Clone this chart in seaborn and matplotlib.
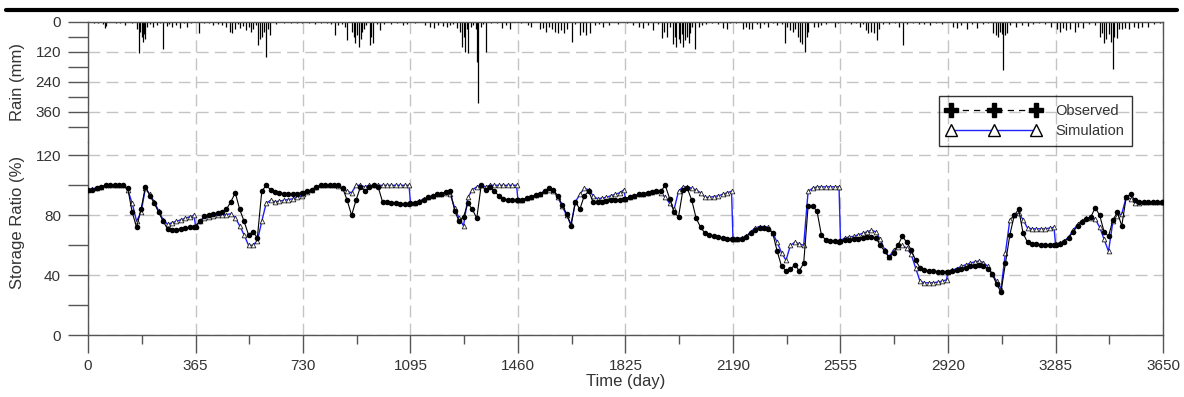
"""
Rainfall (top, inverted) and storage ratio, observed vs simulated, over ten years.
"""
import numpy as np
import pandas as pd
import matplotlib
matplotlib.use("Agg")
import matplotlib.pyplot as plt
from matplotlib.lines import Line2D
import seaborn as sns

# --- Data ---
# sampling grid: every 15 days inside each 365-day year, plus the last day
DAYS = [365 * k + o for k in range(10) for o in range(0, 361, 15)] + [3650]

OBSERVED = [
    97, 97, 98, 99, 100, 100, 100, 100, 100, 98, 82, 72, 84, 99, 93, 88, 82, 76, 71, 70, 70.5, 71, 71.5, 72, 72.5,
    72.5, 76, 79.5, 80.5, 81, 81.5, 82, 84, 89, 95, 84, 76, 67, 69, 65, 96, 100, 97, 95.5, 95, 94.5, 94, 94, 94.5, 95,
    95, 96, 97, 99, 100, 100, 100, 100, 100, 98, 90, 80, 90, 99, 96, 99, 100, 99, 89, 89, 88.5, 88, 87.5, 87.5, 87.5,
    88, 88, 89, 90.5, 92, 93, 94, 94.5, 95.5, 96, 83, 76, 79, 88, 84, 78, 100, 97, 99, 96, 93, 91, 90, 90, 90,
    90, 90.5, 91.5, 92.5, 93.5, 94.5, 96, 98, 97, 93, 87, 81, 73, 89, 84, 93, 96, 89, 89, 89, 89.5, 90, 90, 90.5, 91,
    91, 92, 93, 94, 94.5, 95, 95.5, 96, 96, 100, 91, 82, 79, 97, 98, 90, 78, 72, 68, 67, 66, 65.5, 65, 64.5, 64,
    64, 64, 64.5, 65.5, 68.5, 70.5, 71.5, 71.5, 71, 68, 56, 46, 43, 44, 47, 43, 48, 86, 86, 83, 67, 63.5, 63, 63, 62.5,
    63, 63.5, 63.5, 64, 64.5, 65, 65.5, 65.5, 65, 60, 56, 52, 55, 60, 66, 62, 57, 50, 45, 43.5, 43, 43, 42.5, 42.5, 42.5,
    42.5, 43, 43.5, 44.5, 45, 46, 46.5, 47, 46, 44.5, 41, 34, 29, 48, 67, 80, 84, 68, 62, 61, 61, 60.5, 60.5, 60.5, 60.5,
    60.5, 61, 62.5, 65, 69, 73, 75.5, 77.5, 79, 85, 80, 69, 66, 77, 82, 73, 92, 94, 90, 89, 89, 89, 89, 89, 89, 89,
]

SIMULATED = [
    97, 97.5, 98.5, 99, 100, 100, 100, 100, 100, 97, 88, 76, 82, 98, 94, 89, 83, 77, 74, 75, 76, 77, 78, 79, 80,
    73, 76, 78, 79, 79.5, 80, 80, 80.5, 81, 78.5, 73, 67, 60, 60, 63, 76, 88, 90, 89, 89.5, 90, 90.5, 91, 92, 93,
    94, 95.5, 97, 99, 100, 100, 100, 100, 99.5, 98, 96, 95, 100, 100, 99, 100, 100, 100, 100, 100, 100, 100, 100, 100, 100,
    88, 88.5, 89.5, 91, 92, 93, 94, 94.5, 95, 94, 85, 78, 73, 92, 97, 99, 100, 99, 100, 100, 100, 100, 100, 100, 100,
    90, 90.5, 91.5, 92.5, 93.5, 94.5, 96, 97, 96, 92, 86, 80, 74, 89, 94, 98, 97, 93, 91, 91.5, 92, 93, 94, 95, 97,
    91, 92, 93, 94, 94.5, 95, 95.5, 96, 95, 92, 88, 84, 96, 99, 99, 98, 97, 95, 92, 92, 92.5, 93, 94, 95, 96,
    64, 64.5, 65, 66, 69, 71.5, 72.5, 72.5, 72, 68, 62, 55, 50, 60, 62, 61, 60, 96, 98, 99, 99, 99, 99, 99, 99,
    63, 65, 65.5, 66, 67, 68, 69, 70, 69, 64, 57, 52, 57, 59, 60, 58, 54, 45, 36, 35, 35, 35, 35.5, 36, 37,
    42.5, 43.5, 44.5, 46, 47, 48, 49, 49.5, 48.5, 46, 41, 36, 31, 55, 77, 80, 81.5, 77, 71.5, 71, 71, 71, 71, 71.5, 72,
    61, 61.5, 63, 65.5, 70, 74, 76.5, 78, 78.5, 77.5, 72, 64, 56, 76, 79.5, 81, 92, 91, 88, 88.5, 89, 89, 89, 89, 89, 89,
]

RAIN_DAY = [
    20, 35, 50, 58, 62, 75, 95, 110, 126, 150, 168, 174, 178, 182, 186, 190, 193, 200, 210, 222, 233, 245, 253,
    267, 275, 285, 298, 313, 325, 335, 350,
    378, 395, 410, 425, 440, 455, 470, 482, 490, 499, 508, 516, 525, 535, 545, 552, 561, 570, 578, 584, 590,
    597, 604, 610, 618, 640, 665, 690, 710, 725,
    750, 770, 790, 810, 825, 840, 850, 862, 872, 880, 895, 902, 908, 914, 920, 926, 932, 937, 945, 957, 962,
    968, 980, 991, 1005, 1030, 1050, 1070, 1082,
    1110, 1144, 1160, 1175, 1190, 1205, 1218, 1230, 1240, 1252, 1263, 1270, 1275, 1280, 1286, 1291, 1300,
    1308, 1316, 1322, 1325, 1335, 1342, 1351, 1370, 1390, 1405, 1420, 1433,
    1470, 1495, 1505, 1535, 1545, 1555, 1565, 1575, 1585, 1595, 1605, 1615, 1625, 1642, 1655, 1670, 1680,
    1690, 1704, 1720, 1735, 1750, 1770, 1800,
    1830, 1850, 1870, 1885, 1900, 1920, 1935, 1948, 1955, 1965, 1975, 1987, 1992, 1998, 2005, 2010, 2016,
    2021, 2027, 2033, 2040, 2044, 2052, 2061, 2075, 2085, 2100, 2120, 2140, 2157, 2168, 2180,
    2200, 2225, 2235, 2245, 2253, 2270, 2283, 2295, 2310, 2325, 2340, 2355, 2367, 2372, 2384, 2395, 2400,
    2410, 2418, 2425, 2434, 2440, 2445, 2465, 2480, 2490, 2505, 2535, 2545,
    2570, 2590, 2608, 2620, 2632, 2640, 2650, 2660, 2670, 2678, 2685, 2700, 2720, 2740, 2755, 2768, 2780,
    2800, 2820, 2840, 2860, 2880, 2900,
    2938, 2950, 2965, 2983, 3000, 3020, 3040, 3055, 3074, 3082, 3090, 3097, 3103, 3108, 3114, 3119, 3130,
    3150, 3170, 3190, 3210, 3230, 3250, 3270,
    3290, 3300, 3310, 3320, 3335, 3350, 3360, 3380, 3400, 3420, 3436, 3442, 3450, 3458, 3465, 3472, 3479,
    3485, 3493, 3500, 3510, 3520, 3535, 3550, 3565, 3580, 3600, 3620, 3640,
]

RAIN_MM = [
    4, 6, 8, 26, 18, 3, 5, 4, 12, 5, 30, 124, 40, 60, 80, 50, 70, 20, 8, 20, 15, 6, 110,
    18, 10, 22, 14, 25, 5, 20, 4,
    46, 6, 5, 15, 10, 12, 20, 40, 46, 30, 10, 25, 18, 35, 20, 40, 30, 15, 93, 70, 63,
    40, 140, 30, 53, 8, 6, 5, 6, 4,
    5, 8, 4, 5, 10, 53, 15, 10, 20, 73, 40, 60, 85, 55, 100, 70, 40, 30, 15, 93, 60,
    85, 10, 33, 8, 10, 6, 12, 8,
    4, 15, 20, 25, 12, 18, 22, 15, 10, 25, 40, 100, 60, 120, 30, 124, 20,
    15, 30, 160, 324, 20, 10, 120, 6, 5, 25, 15, 30,
    6, 15, 20, 30, 25, 40, 20, 30, 40, 46, 35, 46, 30, 80, 10, 53, 40,
    53, 45, 15, 10, 20, 12, 10,
    6, 15, 20, 25, 15, 33, 10, 67, 40, 60, 20, 90, 60, 100, 70, 85, 50,
    100, 75, 60, 87, 45, 20, 110, 20, 15, 8, 5, 10, 25, 30, 5,
    6, 30, 20, 30, 28, 10, 25, 8, 20, 6, 15, 10, 87, 20, 35, 40, 30,
    60, 80, 90, 120, 60, 40, 20, 20, 15, 8, 20, 5,
    5, 8, 6, 20, 10, 35, 46, 40, 46, 73, 30, 10, 8, 5, 20, 93, 10,
    6, 10, 8, 12, 5, 8,
    20, 25, 15, 30, 8, 25, 10, 6, 46, 55, 60, 40, 50, 193, 55, 46, 15,
    20, 12, 18, 10, 6, 10, 20,
    30, 40, 25, 35, 30, 40, 20, 25, 10, 15, 60, 46, 87, 70, 50, 80, 190,
    60, 65, 30, 30, 25, 30, 20, 25, 20, 20, 10, 5,
]

X_MAJOR = [0, 365, 730, 1095, 1460, 1825, 2190, 2555, 2920, 3285, 3650]

# --- Style ---
W, H = 1184, 397
TXT = "#333333"
SPINE = "#555555"
GRID = dict(color="#c4c4c4", linestyle=(0, (8.5, 4.5)), linewidth=1.0)

sns.set_theme(style="ticks")
plt.rcParams["font.family"] = ["Liberation Sans", "DejaVu Sans"]
plt.rcParams["font.size"] = 10.5


def px(x0, y0, x1, y1):
    """Convert a pixel box (top-left origin) to figure-fraction rect."""
    return [x0 / W, 1 - y1 / H, (x1 - x0) / W, (y1 - y0) / H]


fig = plt.figure(figsize=(W / 100, H / 100), dpi=100)
ax_r = fig.add_axes(px(88, 21.7, 1163, 141.7))
ax_s = fig.add_axes(px(88, 141.7, 1163, 335.3))

# --- Rain panel ---
ax_r.vlines(RAIN_DAY, 0, RAIN_MM, color="black", linewidth=0.9)
ax_r.set_xlim(0, 3650)
ax_r.set_ylim(480, 0)
ax_r.set_yticks([0, 120, 240, 360])
ax_r.set_yticks([60, 180, 300, 420], minor=True)
ax_r.set_xticks(X_MAJOR)
ax_r.tick_params(axis="x", bottom=False, labelbottom=False)
ax_r.set_ylabel("Rain (mm)", color=TXT)
ax_r.yaxis.set_label_coords(-0.0585, 0.5)
ax_r.spines["bottom"].set_visible(False)

# --- Storage panel ---
df = pd.DataFrame({"Day": DAYS, "Observed": OBSERVED, "Simulation": SIMULATED})
sns.lineplot(data=df, x="Day", y="Simulation", ax=ax_s, color="#1f1fff", linewidth=1.0,
             marker="^", markersize=3.4, markerfacecolor="white", markeredgecolor="#222222",
             markeredgewidth=0.6, estimator=None, zorder=3)
sns.lineplot(data=df, x="Day", y="Observed", ax=ax_s, color="black", linewidth=0.8,
             marker="o", markersize=4.0, markeredgewidth=0, estimator=None, zorder=4)
ax_s.set_xlim(0, 3650)
ax_s.set_ylim(0, 193.6 / 1.5)
ax_s.set_yticks([0, 40, 80, 120])
ax_s.set_yticks([20, 60, 100], minor=True)
ax_s.set_xticks(X_MAJOR)
ax_s.set_xticks([d + 182.5 for d in X_MAJOR[:-1]], minor=True)
ax_s.set_xlabel("Time (day)", color=TXT, labelpad=1)
ax_s.set_ylabel("Storage Ratio (%)", color=TXT)
ax_s.yaxis.set_label_coords(-0.0585, 0.585)
ax_s.spines["top"].set_visible(False)

for ax in (ax_r, ax_s):
    ax.set_facecolor("none")
    ax.grid(True, which="major", **GRID)
    for s in ("left", "right", "top", "bottom"):
        ax.spines[s].set_color(SPINE)
        ax.spines[s].set_linewidth(1.0)
    ax.tick_params(axis="y", which="both", direction="out", length=14.5, width=1.0,
                   color=SPINE, labelcolor=TXT, pad=5, left=True, right=False)
    ax.tick_params(axis="x", which="major", direction="out", length=13, width=1.0,
                   color=SPINE, labelcolor=TXT, pad=4)
    ax.tick_params(axis="x", which="minor", direction="out", length=6.5, width=1.0, color=SPINE)
ax_r.tick_params(axis="x", which="both", bottom=False, top=False)
ax_s.tick_params(axis="x", which="both", top=False)

# --- Legend ---
handles = [
    Line2D([], [], color="black", linestyle=(0, (5, 4)), linewidth=0.9, marker="P",
           markersize=10, markerfacecolor="black", markeredgecolor="black"),
    Line2D([], [], color="#1f1fff", linewidth=1.0, marker="^", markersize=9,
           markerfacecolor="white", markeredgecolor="black", markeredgewidth=1.0),
]
leg = fig.legend(handles, ["Observed", "Simulation"], loc="upper left",
                 bbox_to_anchor=(939 / W, 1 - 96 / H), borderaxespad=0, numpoints=3,
                 handlelength=6.4, handletextpad=1.0, borderpad=0.55, labelspacing=0.4,
                 fancybox=False, frameon=True, fontsize=10.5, labelcolor=TXT)
leg.get_frame().set_edgecolor("black")
leg.get_frame().set_linewidth(1.0)
leg.get_frame().set_facecolor("none")

# heavy rule across the top of the figure
fig.add_artist(Line2D([6 / W, 1177 / W], [1 - 10.3 / H] * 2, color="black",
                      linewidth=3.0, transform=fig.transFigure))

fig.savefig("out.png", dpi=100)
